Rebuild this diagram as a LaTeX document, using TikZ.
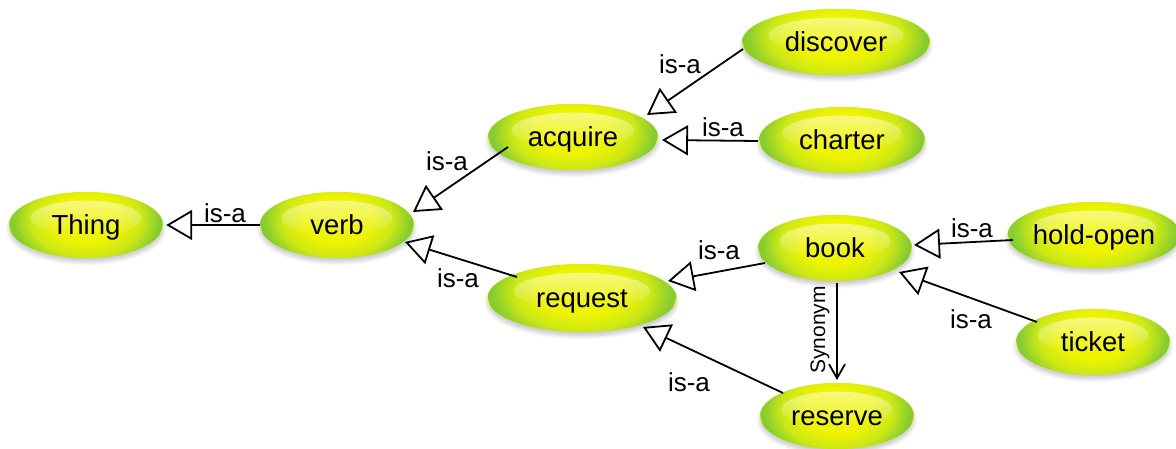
\documentclass[tikz,border=0pt]{standalone}
\usepackage{fontspec}
\setmainfont{Liberation Sans}
\usetikzlibrary{shapes.geometric,arrows.meta,shadows.blur,fadings}
\definecolor{ylw}{RGB}{238,243,0}
\definecolor{ylgr}{RGB}{205,232,22}
\definecolor{grn}{RGB}{132,204,48}
\pgfdeclareradialshading{nodeshade}{\pgfpoint{0bp}{0bp}}{color(0bp)=(ylw); color(11bp)=(ylw); color(18bp)=(ylgr); color(24bp)=(grn); color(50bp)=(grn)}
\tikzfading[name=hlfade, top color=transparent!0, bottom color=transparent!100]
\newcommand\nfont{\fontsize{26}{30}\selectfont}
\newcommand\cfont{\fontsize{27.5}{31}\selectfont}
\begin{document}
\begin{tikzpicture}[x=1pt,y=-1pt,
  concept/.style={ellipse, minimum width=#1, minimum height=66pt, inner sep=0pt,
    text height=19.6pt, text depth=0pt, font=\cfont, fill=ylw,
    blur shadow={shadow blur steps=6, shadow xshift=0pt, shadow yshift=-4pt, shadow opacity=22, shadow blur radius=4pt},
    path picture={
      \path let \p1=(path picture bounding box.north east), \p2=(path picture bounding box.south west)
        in [shading=nodeshade] ({(\x1+\x2)/2}, {(\y1+\y2)/2+0.08*(\y1-\y2)}) ellipse [x radius={0.5*(\x1-\x2)}, y radius={0.78*(\y1-\y2)}];
      \fill[white, fill opacity=0.5, path fading=hlfade]
        let \p1=(path picture bounding box.north east), \p2=(path picture bounding box.south west)
        in ({(\x1+\x2)/2}, {\y1-0.40*(\y1-\y2)}) ellipse [x radius={0.36*(\x1-\x2)}, y radius={0.27*(\y1-\y2)}];
    }},
  lbl/.style={font=\nfont, inner sep=0pt},
  isa/.style={draw, line width=1.8pt, -{Triangle[open, length=26pt, width=30pt]}},
  syn/.style={draw, line width=1.8pt, -{Straight Barb[length=14pt, width=16pt]}}
]
\useasboundingbox (0,0) rectangle (1176,449);

\node[concept=154pt] (Thing) at (86,225) {Thing};
\node[concept=154pt] (verb) at (337,225) {verb};
\node[concept=170pt] (acquire) at (573,137) {acquire};
\node[concept=188pt] (discover) at (836,42) {discover};
\node[concept=166pt] (charter) at (842,140) {charter};
\node[concept=189pt, minimum height=68pt] (request) at (582,298) {request};
\node[concept=154pt] (book) at (835,248) {book};
\node[concept=166pt] (holdopen) at (1094,235) {hold-open};
\node[concept=154pt] (ticket) at (1093,342) {ticket};
\node[concept=154pt] (reserve) at (837,416) {reserve};

\draw[isa, shorten >=3pt] (verb.west) -- (Thing.east);
\draw[isa] ([shift={(-65,10)}]acquire.center) -- ([shift={(76,-13)}]verb.center);
\draw[isa] ([shift={(-65,-21)}]request.center) -- ([shift={(68,17)}]verb.center);
\draw[isa] ([shift={(-93,7)}]discover.center) -- ([shift={(74,-22)}]acquire.center);
\draw[isa] ([shift={(-84,1)}]charter.center) -- ([shift={(89,3)}]acquire.center);
\draw[isa] ([shift={(-70,15)}]book.center) -- ([shift={(86,-17)}]request.center);
\draw[isa] ([shift={(-54,-23)}]reserve.center) -- ([shift={(61,29)}]request.center);
\draw[isa] ([shift={(-81,5)}]holdopen.center) -- ([shift={(79,-3)}]book.center);
\draw[isa] ([shift={(-56,-20)}]ticket.center) -- ([shift={(64,24)}]book.center);
\draw[syn] ([shift={(2,35)}]book.center) -- ([shift={(0,-36)}]reserve.center);

\node[lbl] (l1) at (225,213) {is-a};
\node[lbl] (l2) at (447,161) {is-a};
\node[lbl] (l3) at (458,278) {is-a};
\node[lbl] (l4) at (680,64) {is-a};
\node[lbl] (l5) at (723,127) {is-a};
\node[lbl] (l6) at (719,250) {is-a};
\node[lbl] (l7) at (689,382) {is-a};
\node[lbl] (l8) at (972,228) {is-a};
\node[lbl] (l9) at (971,319) {is-a};
\node[lbl, font=\fontsize{21}{24}\selectfont, rotate=90] (l10) at (820,330) {Synonym};
\end{tikzpicture}
\end{document}
